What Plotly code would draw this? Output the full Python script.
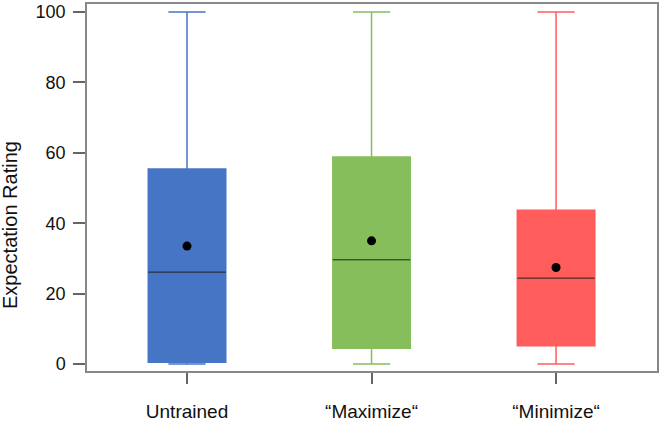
import plotly.graph_objects as go

categories = ["Untrained", "\u201cMaximize\u201c", "\u201cMinimize\u201c"]
positions = [0, 1, 2]
q1 = [0.5, 4.5, 5.2]
medians = [26.1, 29.6, 24.4]
q3 = [55.4, 58.8, 43.7]
lower = [0, 0, 0]
upper = [100, 100, 100]
means = [33.5, 35.0, 27.4]
colors = ["#4775C6", "#86BE5C", "#FF5C5C"]
y_ticks = [0, 20, 40, 60, 80, 100]
y_title = "Expectation Rating"

BOX_W = 0.42

fig = go.Figure()
for i, cat in enumerate(categories):
    fig.add_trace(go.Box(
        x=[positions[i]], q1=[q1[i]], median=[medians[i]], q3=[q3[i]],
        lowerfence=[lower[i]], upperfence=[upper[i]],
        width=BOX_W, whiskerwidth=0.48,
        fillcolor=colors[i], line=dict(color=colors[i], width=1.5),
        boxpoints=False, showlegend=False, hoverinfo="skip",
    ))
    fig.add_trace(go.Scatter(
        x=[positions[i] - BOX_W / 2, positions[i] + BOX_W / 2],
        y=[medians[i], medians[i]], mode="lines",
        line=dict(color="#222222", width=1), showlegend=False, hoverinfo="skip",
    ))

fig.add_trace(go.Scatter(
    x=positions, y=means, mode="markers",
    marker=dict(color="black", size=9), showlegend=False,
))

fig.update_layout(
    width=661, height=424,
    margin=dict(l=87, r=4, t=4, b=53),
    plot_bgcolor="white", paper_bgcolor="white",
    font=dict(family="Arial, Liberation Sans, sans-serif", size=18, color="#111111"),
)
fig.update_xaxes(
    range=[-0.542, 2.547], tickvals=positions, ticktext=categories,
    tickfont=dict(size=19), automargin=False,
    ticks="outside", ticklen=11, tickcolor="#666666", tickwidth=1.5,
    showline=True, linecolor="#888888", linewidth=1.5, mirror=True,
    showgrid=False, zeroline=False, ticklabelstandoff=11,
)
fig.update_yaxes(
    range=[-2.0, 102.3], tickvals=y_ticks, tickfont=dict(size=18), automargin=False,
    ticks="outside", ticklen=12, tickcolor="#666666", tickwidth=1.5,
    showline=True, linecolor="#888888", linewidth=1.5, mirror=True,
    showgrid=False, zeroline=False, ticklabelstandoff=4,
)
fig.add_annotation(
    text=y_title, textangle=-90, xref="paper", yref="paper",
    x=-0.135, y=0.398, xanchor="center", yanchor="middle",
    showarrow=False, font=dict(size=20),
)

fig.write_html("out.html")
